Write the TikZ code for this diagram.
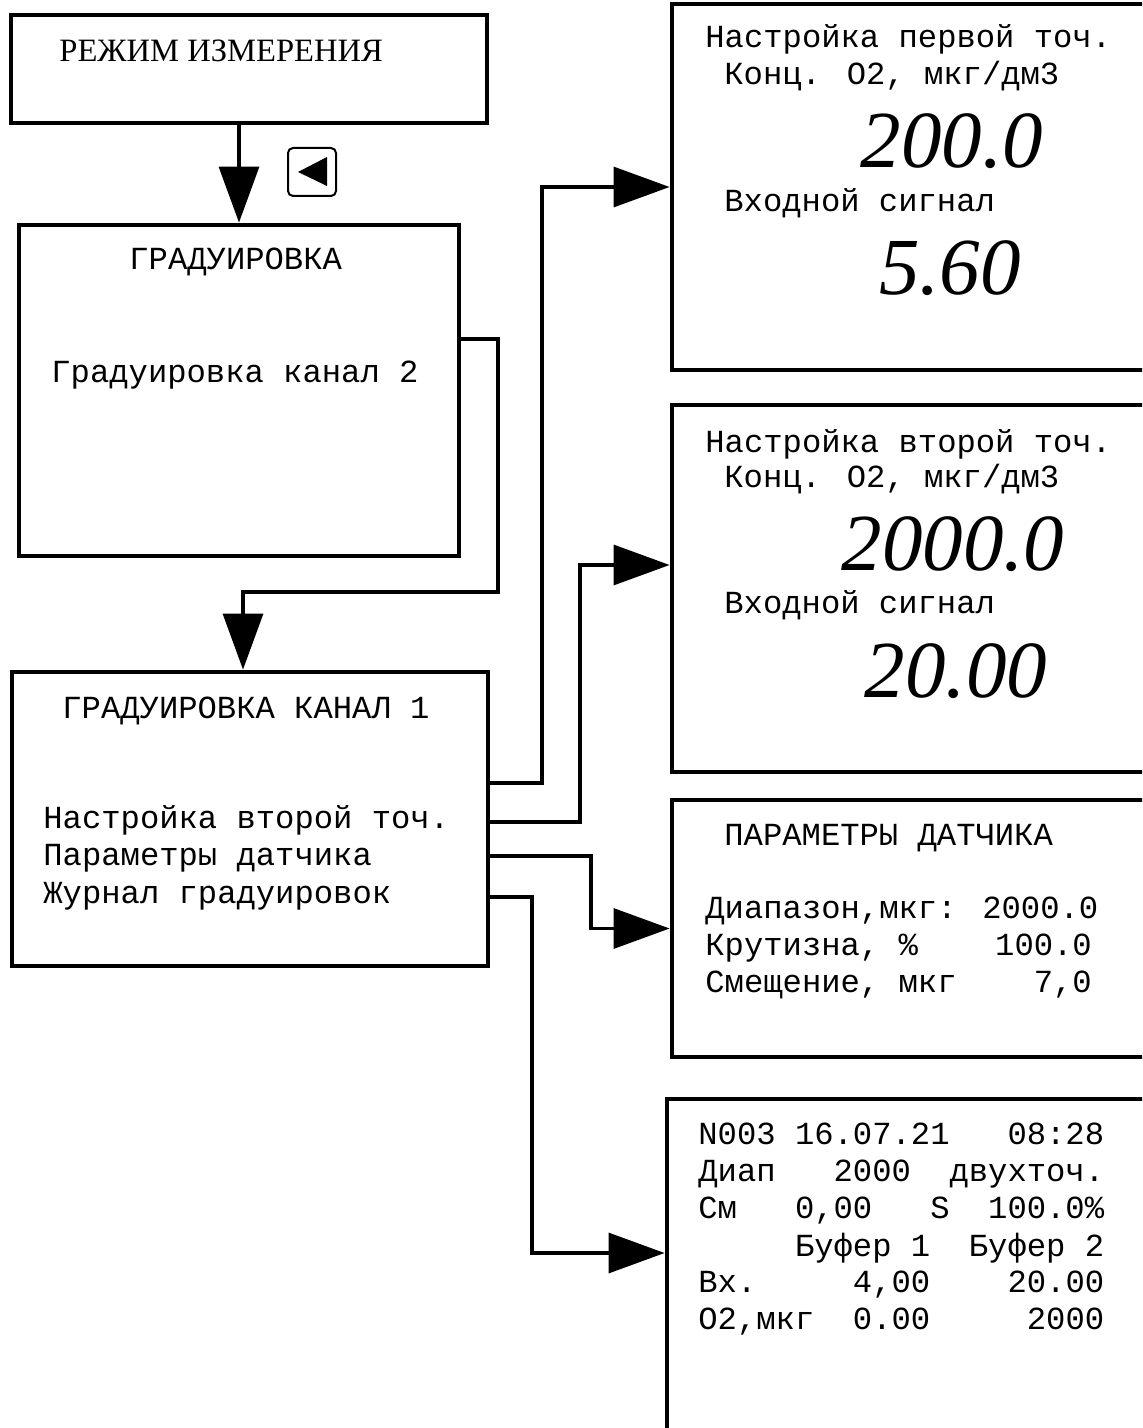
\documentclass[tikz,border=0pt]{standalone}
\usepackage{fontspec}
\setmainfont{Liberation Serif}
\newfontfamily\monofont{Liberation Mono}
\usetikzlibrary{arrows.meta}

\begin{document}
\begin{tikzpicture} [x=0.5pt, y=-0.5pt,
    screen/.style={rectangle, draw, line width=2.4pt, inner sep=0pt},
    mono/.style={font=\fontsize{16.1}{19}\monofont, anchor=base west, inner sep=0pt},
    big/.style={font=\fontsize{40.5}{45}\selectfont\itshape, anchor=base, inner sep=0pt},
    link/.style={-{Triangle[length=28pt, width=20pt]}, line width=1.6pt}]
\useasboundingbox (0,0) rectangle (1142,1428);
\clip (0,0) rectangle (1142,1428);

\node (a) [screen, minimum width=238pt, minimum height=54pt] at (249,69) {};
\node (b) [screen, minimum width=220pt, minimum height=165.5pt] at (239,390.5) {};
\node (c) [screen, minimum width=238pt, minimum height=147pt] at (250,819) {};
\node (p1) [screen, minimum width=244pt, minimum height=183pt] at (916,187) {};
\node (p2) [screen, minimum width=244pt, minimum height=183.5pt] at (916,588.5) {};
\node (d) [screen, minimum width=244pt, minimum height=128.5pt] at (916,928.5) {};
\node (e) [screen, minimum width=246.5pt, minimum height=180.5pt] at (913.5,1279.5) {};

\node (key) [draw, rounded corners=2.5pt, line width=1pt, minimum size=24pt, inner sep=0pt] at (312,172) {};
\fill (298,172) -- (327,157) -- (327,186) -- cycle;

\node (at) [anchor=base west, inner sep=0pt, font=\fontsize{16.3}{19}\selectfont] at (59,62) {РЕЖИМ ИЗМЕРЕНИЯ};

\node (bt1) [mono] at (129,270) {ГРАДУИРОВКА};
\node (bt2) [mono] at (51,382) {Градуировка канал 2};

\node (ct1) [mono] at (62,718) {ГРАДУИРОВКА КАНАЛ 1};
\node (ct2) [mono] at (43,828) {Настройка второй точ.};
\node (ct3) [mono] at (43,865) {Параметры датчика};
\node (ct4) [mono] at (43,903) {Журнал градуировок};

\node (p1t1) [mono] at (705,48) {Настройка первой точ.};
\node (p1t2) [mono] at (724,85) {Конц. O2, мкг/дм3};
\node (p1v1) [big] at (952,168) {200.0};
\node (p1t3) [mono] at (724,212) {Входной сигнал};
\node (p1v2) [big] at (950,295) {5.60};

\node (p2t1) [mono] at (705,452) {Настройка второй точ.};
\node (p2t2) [mono] at (724,487) {Конц. O2, мкг/дм3};
\node (p2v1) [big] at (953,570) {2000.0};
\node (p2t3) [mono] at (724,613) {Входной сигнал};
\node (p2v2) [big] at (956,697) {20.00};

\node (dt1) [mono] at (724,845) {ПАРАМЕТРЫ ДАТЧИКА};
\node (dt2) [mono] at (705,918) {Диапазон,мкг: 2000.0};
\node (dt3) [mono] at (705,955) {Крутизна,~\%~~~~100.0};
\node (dt4) [mono] at (705,992) {Смещение,~мкг~~~~7,0};

\node (et1) [mono] at (698,1144) {N003 16.07.21~~~08:28};
\node (et2) [mono] at (698,1181) {Диап~~~2000~~двухточ.};
\node (et3) [mono] at (698,1218) {См~~~0,00~~~S~~100.0\%};
\node (et4) [mono] at (698,1256) {~~~~~Буфер 1~~Буфер 2};
\node (et5) [mono] at (698,1292) {Вх.~~~~~4,00~~~~20.00};
\node (et6) [mono] at (698,1329) {O2,мкг~~0.00~~~~~2000};

\draw [link] (a.south -| b.north) -- (b.north);
\draw [link] (b.east |- 0,339) -| (498,592) -| (c.north -| 243,0);
\draw [link] (c.east |- 0,783) -- (542,783) |- (p1.west);
\draw [link] (c.east |- 0,822) -- (580,822) |- (p2.west |- 0,565);
\draw [link] (c.east |- 0,856) -- (591,856) |- (d.west);
\draw [link] (c.east |- 0,897) -- (532,897) |- (e.west |- 0,1253);
\end{tikzpicture}
\end{document}
